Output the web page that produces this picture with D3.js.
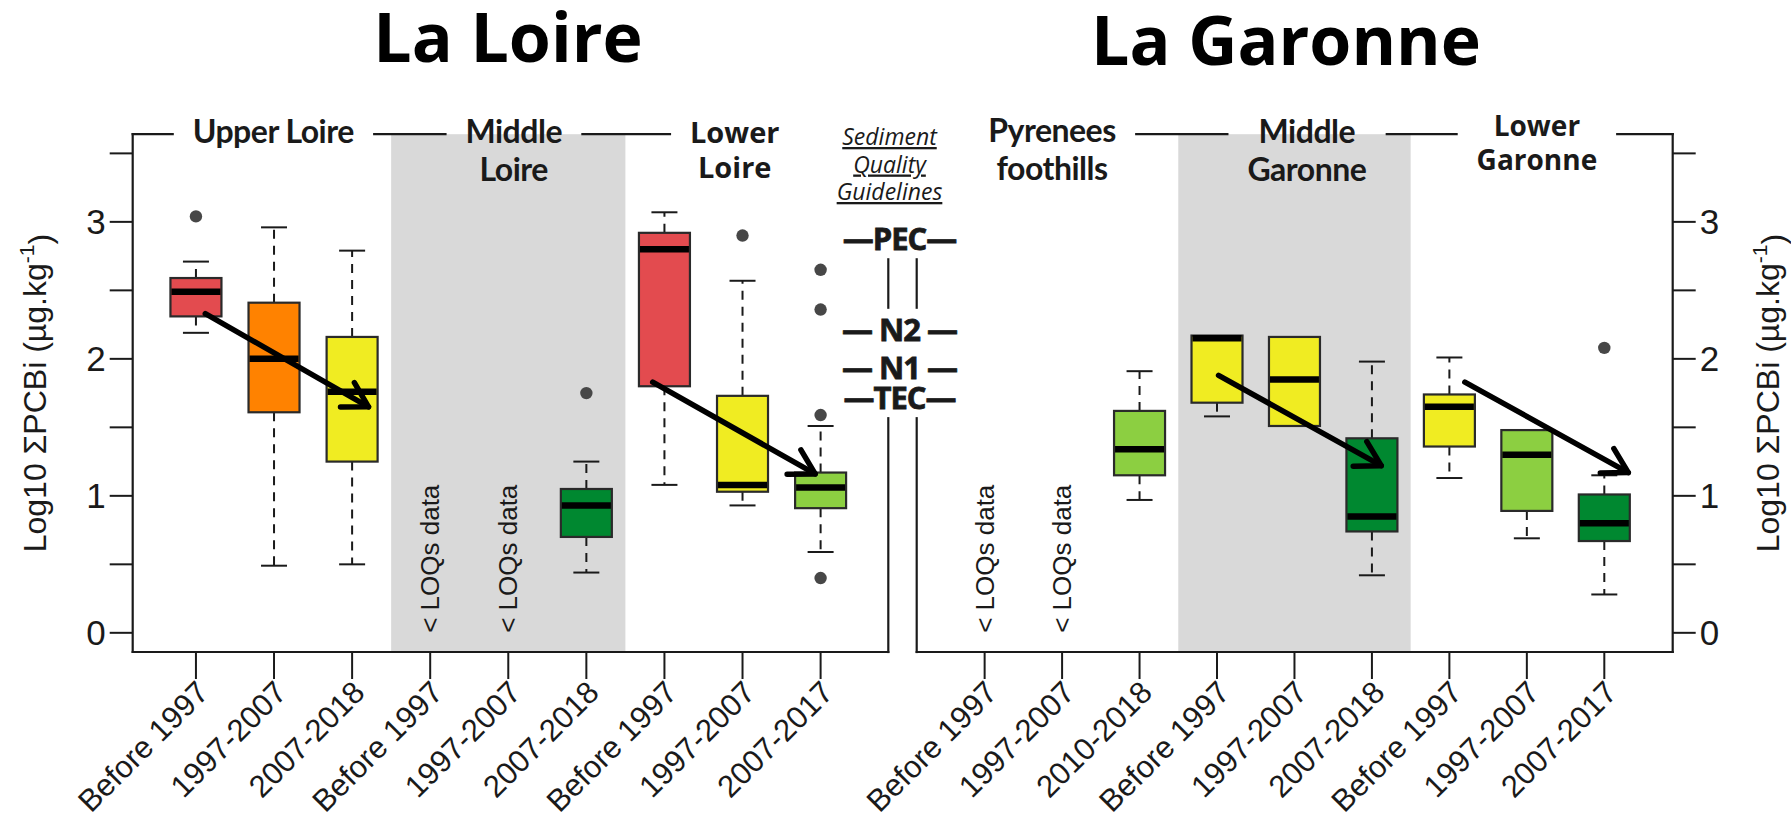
<!DOCTYPE html>
<html>
<head>
<meta charset="utf-8">
<script src="https://cdn.jsdelivr.net/npm/d3@7"></script>
<style>
  body { margin: 0; background: #fff; }
  svg text { font-family: "Liberation Sans", Arial, sans-serif; fill: #1a1a1a; }
</style>
</head>
<body>
<svg id="chart" width="1791" height="820"></svg>
<script>
// ---- Data: log10 of the sum of indicator PCBs (µg/kg), per river section and period ----
const loireCategories = ["Before 1997", "1997-2007", "2007-2018", "Before 1997", "1997-2007", "2007-2018", "Before 1997", "1997-2007", "2007-2017"];
const garonneCategories = ["Before 1997", "1997-2007", "2010-2018", "Before 1997", "1997-2007", "2007-2018", "Before 1997", "1997-2007", "2007-2017"];

const loireRegions = [["Upper Loire"], ["Middle", "Loire"], ["Lower", "Loire"]];
const garonneRegions = [["Pyrenees", "foothills"], ["Middle", "Garonne"], ["Lower", "Garonne"]];

// box statistics (null = all values below the limit of quantification)
const loireLow    = [2.19, 0.49, 0.50, null, null, 0.44, 1.08, 0.93, 0.59];
const loireQ1     = [2.31, 1.61, 1.25, null, null, 0.70, 1.80, 1.03, 0.91];
const loireMedian = [2.49, 2.00, 1.76, null, null, 0.93, 2.80, 1.08, 1.06];
const loireQ3     = [2.59, 2.41, 2.16, null, null, 1.05, 2.92, 1.73, 1.17];
const loireHigh   = [2.71, 2.96, 2.79, null, null, 1.25, 3.07, 2.57, 1.51];
const loireOutliers = [[3.04], [], [], [], [], [1.75], [], [2.90], [2.65, 2.36, 1.59, 0.40]];

const garonneLow    = [null, null, 0.97, 1.58, 1.51, 0.42, 1.13, 0.69, 0.28];
const garonneQ1     = [null, null, 1.15, 1.68, 1.51, 0.74, 1.36, 0.89, 0.67];
const garonneMedian = [null, null, 1.34, 2.15, 1.85, 0.85, 1.65, 1.30, 0.80];
const garonneQ3     = [null, null, 1.62, 2.17, 2.16, 1.42, 1.74, 1.48, 1.01];
const garonneHigh   = [null, null, 1.91, 2.17, 2.16, 1.98, 2.01, 1.48, 1.15];
const garonneOutliers = [[], [], [], [], [], [], [], [], [2.08]];

// trend arrows: [fromPosition, fromValue, toPosition, toValue]
const loireTrends = [[1.12, 2.33, 3.21, 1.65], [6.85, 1.83, 8.93, 1.16]];
const garonneTrends = [[4.02, 1.88, 6.12, 1.22], [7.20, 1.83, 9.31, 1.17]];

// sediment quality guidelines (log10 µg/kg)
const guidelineNames = ["PEC", "N2", "N1", "TEC"];
const guidelineValues = [2.88, 2.22, 1.94, 1.72];

const yTicks = [0, 0.5, 1, 1.5, 2, 2.5, 3, 3.5];
const yTickLabels = [0, 1, 2, 3];

// ---- Styles ----
const fillColors = {
  red: "#e34b4f", orange: "#ff8200", yellow: "#f0ec22", lightgreen: "#8ccf41", darkgreen: "#008830"
};
const loireFills = ["red", "orange", "yellow", null, null, "darkgreen", "red", "yellow", "lightgreen"];
const garonneFills = [null, null, "lightgreen", "yellow", "yellow", "darkgreen", "yellow", "lightgreen", "darkgreen"];

const ink = "#1a1a1a";
const shade = "#d9d9d9";

// ---- Layout ----
const svg = d3.select("#chart");
const plotTop = 134.2, plotBottom = 652;
const y = d3.scaleLinear().domain([-0.14, 3.64]).range([plotBottom, plotTop]);
const boxWidth = 51, capWidth = 26;

const panels = [
  {
    title: "La Loire", titleX: 508, titleY: 62,
    x: d3.scaleLinear().domain([0.19, 9.867]).range([132.7, 888.3]),
    categories: loireCategories, regions: loireRegions,
    regionPos: [1.99, 5.07, 7.9],
    regionStyle: [
      { font: "Lato", size: 32, base: 143 },
      { font: "Lato", size: 32, base: 143 },
      { font: "Open Sans", size: 29, base: 143 }
    ],
    low: loireLow, q1: loireQ1, med: loireMedian, q3: loireQ3, high: loireHigh,
    outliers: loireOutliers, fills: loireFills, trends: loireTrends,
    axisSide: "left"
  },
  {
    title: "La Garonne", titleX: 1286, titleY: 65,
    x: d3.scaleLinear().domain([0.123, 9.883]).range([916.7, 1672.7]),
    categories: garonneCategories, regions: garonneRegions,
    regionPos: [1.87, 5.16, 8.13],
    regionStyle: [
      { font: "Lato", size: 32, base: 142 },
      { font: "Lato", size: 32, base: 143 },
      { font: "Open Sans", size: 28, base: 136 }
    ],
    low: garonneLow, q1: garonneQ1, med: garonneMedian, q3: garonneQ3, high: garonneHigh,
    outliers: garonneOutliers, fills: garonneFills, trends: garonneTrends,
    axisSide: "right"
  }
];

// returns the parts of [a, b] not covered by the given gaps
function openSegments(a, b, gaps) {
  const g = gaps.map(d => [Math.max(a, d[0]), Math.min(b, d[1])])
    .filter(d => d[1] > d[0]).sort((p, q) => p[0] - q[0]);
  const merged = [];
  g.forEach(d => {
    const last = merged[merged.length - 1];
    if (last && d[0] <= last[1] + 12) last[1] = Math.max(last[1], d[1]);
    else merged.push(d.slice());
  });
  const out = [];
  let cur = a;
  merged.forEach(d => { if (d[0] > cur) out.push([cur, d[0]]); cur = Math.max(cur, d[1]); });
  if (cur < b) out.push([cur, b]);
  return out;
}

const layerBack = svg.append("g");
const layerFrame = svg.append("g");
const layerMarks = svg.append("g");
const layerText = svg.append("g");

// ---- Sediment quality guidelines between the two panels ----
const gapCenter = (panels[0].x.range()[1] + panels[1].x.range()[0]) / 2;
const sqg = layerText.append("g");
["Sediment", "Quality", "Guidelines"].forEach((t, i) => {
  sqg.append("text")
    .attr("x", gapCenter - 13).attr("y", 145 + i * 27.5)
    .attr("text-anchor", "middle")
    .style("font-family", "'Open Sans', sans-serif")
    .style("font-style", "italic")
    .style("font-size", "23px")
    .style("text-decoration", "underline")
    .text(t);
});
const sqgBox = sqg.node().getBBox();

const guideLabels = guidelineNames.map((name, i) => {
  const wide = name.length > 2;
  return layerText.append("text")
    .attr("x", gapCenter - 3).attr("y", y(guidelineValues[i]))
    .attr("text-anchor", "middle").attr("dominant-baseline", "central")
    .style("font-family", "'Open Sans', sans-serif")
    .style("font-weight", 700).style("font-size", "31px")
    .style("letter-spacing", "-1px")
    .style("stroke", ink).style("stroke-width", 0.8)
    .text(wide ? "\u2014" + name + "\u2014" : "\u2014 " + name + " \u2014");
});
const guideBoxes = guideLabels.map(t => t.node().getBBox());

panels.forEach((p, pi) => {
  const x = p.x;
  const [x0, x1] = x.range();

  // title
  layerText.append("text")
    .attr("x", p.titleX).attr("y", p.titleY)
    .attr("text-anchor", "middle")
    .style("font-family", "'Open Sans', sans-serif")
    .style("font-weight", 700).style("font-size", "68px")
    .style("fill", "#000")
    .text(p.title);

  // shaded middle section
  layerBack.append("rect")
    .attr("x", x(3.5)).attr("y", plotTop)
    .attr("width", x(6.5) - x(3.5)).attr("height", plotBottom - plotTop)
    .attr("fill", shade);

  // section labels sitting on the top frame line
  const gapsTop = [];
  p.regions.forEach((lines, ri) => {
    const st = p.regionStyle[ri];
    const g = layerText.append("g");
    lines.forEach((line, li) => {
      g.append("text")
        .attr("x", x(p.regionPos[ri])).attr("y", st.base + li * st.size * 1.2)
        .attr("text-anchor", "middle")
        .style("font-family", `'${st.font}', sans-serif`)
        .style("font-weight", 700).style("font-size", st.size + "px")
        .style("letter-spacing", st.font === "Lato" ? "-0.5px" : "0px")
        .text(line);
    });
    const bb = g.node().getBBox();
    gapsTop.push([bb.x - 20, bb.x + bb.width + 20]);
  });
  gapsTop.push([sqgBox.x - 40, sqgBox.x + sqgBox.width + 25]);

  // frame
  const frameLine = (xa, ya, xb, yb) => layerFrame.append("line")
    .attr("x1", xa).attr("y1", ya).attr("x2", xb).attr("y2", yb)
    .attr("stroke", ink).attr("stroke-width", 2.2).attr("stroke-linecap", "square");

  openSegments(x0, x1, gapsTop).forEach(s => frameLine(s[0], plotTop, s[1], plotTop));
  frameLine(x0, plotBottom, x1, plotBottom);

  const innerX = pi === 0 ? x1 : x0;
  const outerX = pi === 0 ? x0 : x1;
  const gapsSide = [[plotTop - 5, sqgBox.y + sqgBox.height + 4]]
    .concat(guideBoxes.map(b => [b.y, b.y + b.height]));
  openSegments(plotTop, plotBottom, gapsSide).forEach(s => frameLine(innerX, s[0], innerX, s[1]));
  frameLine(outerX, plotTop, outerX, plotBottom);

  // y axis on the outer edge
  const dir = p.axisSide === "left" ? -1 : 1;
  yTicks.forEach(t => {
    layerFrame.append("line")
      .attr("x1", outerX).attr("x2", outerX + dir * 23)
      .attr("y1", y(t)).attr("y2", y(t))
      .attr("stroke", ink).attr("stroke-width", 2);
  });
  yTickLabels.forEach(t => {
    layerText.append("text")
      .attr("x", outerX + dir * 27).attr("y", y(t))
      .attr("text-anchor", dir < 0 ? "end" : "start")
      .attr("dominant-baseline", "central")
      .style("font-size", "35px")
      .text(t);
  });
  const titleX = p.axisSide === "left" ? 35 : 1768;
  const yTitle = layerText.append("text")
    .attr("transform", `translate(${titleX},${(plotTop + plotBottom) / 2}) rotate(-90)`)
    .attr("text-anchor", "middle").attr("dominant-baseline", "central")
    .style("font-size", "32px");
  yTitle.append("tspan").text("Log10 \u03A3PCBi (\u00B5g.kg");
  yTitle.append("tspan").attr("dy", "-0.45em").style("font-size", "21px").text("-1");
  yTitle.append("tspan").attr("dy", "0.45em").text(")");

  // x axis ticks and slanted period labels
  p.categories.forEach((c, i) => {
    const cx = x(i + 1);
    layerFrame.append("line")
      .attr("x1", cx).attr("x2", cx).attr("y1", plotBottom).attr("y2", plotBottom + 27)
      .attr("stroke", ink).attr("stroke-width", 2);
    layerText.append("text")
      .attr("transform", `translate(${cx + 7},${plotBottom + 35}) rotate(-45)`)
      .attr("text-anchor", "end").attr("dominant-baseline", "central")
      .style("font-size", "31px")
      .text(c);
  });

  // boxes
  p.categories.forEach((c, i) => {
    const cx = x(i + 1);
    if (p.med[i] === null) {
      layerText.append("text")
        .attr("transform", `translate(${cx},${y(0)}) rotate(-90)`)
        .attr("text-anchor", "start").attr("dominant-baseline", "central")
        .style("font-size", "26px")
        .text("< LOQs data");
      return;
    }
    const g = layerMarks.append("g");
    const whisker = (from, to) => {
      if (Math.abs(to - from) < 1e-9) return;
      g.append("line").attr("x1", cx).attr("x2", cx)
        .attr("y1", y(from)).attr("y2", y(to))
        .attr("stroke", ink).attr("stroke-width", 2).attr("stroke-dasharray", "9,7");
      g.append("line").attr("x1", cx - capWidth / 2).attr("x2", cx + capWidth / 2)
        .attr("y1", y(to)).attr("y2", y(to))
        .attr("stroke", ink).attr("stroke-width", 2);
    };
    whisker(p.q3[i], p.high[i]);
    whisker(p.q1[i], p.low[i]);
    g.append("rect")
      .attr("x", cx - boxWidth / 2).attr("y", y(p.q3[i]))
      .attr("width", boxWidth).attr("height", y(p.q1[i]) - y(p.q3[i]))
      .attr("fill", fillColors[p.fills[i]])
      .attr("stroke", "#2a2a2a").attr("stroke-width", 2.2);
    g.append("line")
      .attr("x1", cx - boxWidth / 2 + 1).attr("x2", cx + boxWidth / 2 - 1)
      .attr("y1", y(p.med[i])).attr("y2", y(p.med[i]))
      .attr("stroke", "#000").attr("stroke-width", 6.5);
    p.outliers[i].forEach(v => {
      g.append("circle").attr("cx", cx).attr("cy", y(v)).attr("r", 6.2).attr("fill", "#474747");
    });
  });

  // trend arrows
  p.trends.forEach(t => {
    const xa = x(t[0]), ya = y(t[1]), xb = x(t[2]), yb = y(t[3]);
    const ang = Math.atan2(yb - ya, xb - xa);
    const L = 28, spread = Math.PI / 6;
    const h1 = [xb - L * Math.cos(ang - spread), yb - L * Math.sin(ang - spread)];
    const h2 = [xb - L * Math.cos(ang + spread), yb - L * Math.sin(ang + spread)];
    layerMarks.append("line")
      .attr("x1", xa).attr("y1", ya).attr("x2", xb).attr("y2", yb)
      .attr("stroke", "#000").attr("stroke-width", 5.5).attr("stroke-linecap", "round");
    layerMarks.append("path")
      .attr("d", `M${h1[0]},${h1[1]}L${xb},${yb}L${h2[0]},${h2[1]}`)
      .attr("fill", "none").attr("stroke", "#000").attr("stroke-width", 5.5)
      .attr("stroke-linecap", "round").attr("stroke-linejoin", "round");
  });
});
</script>
</body>
</html>
